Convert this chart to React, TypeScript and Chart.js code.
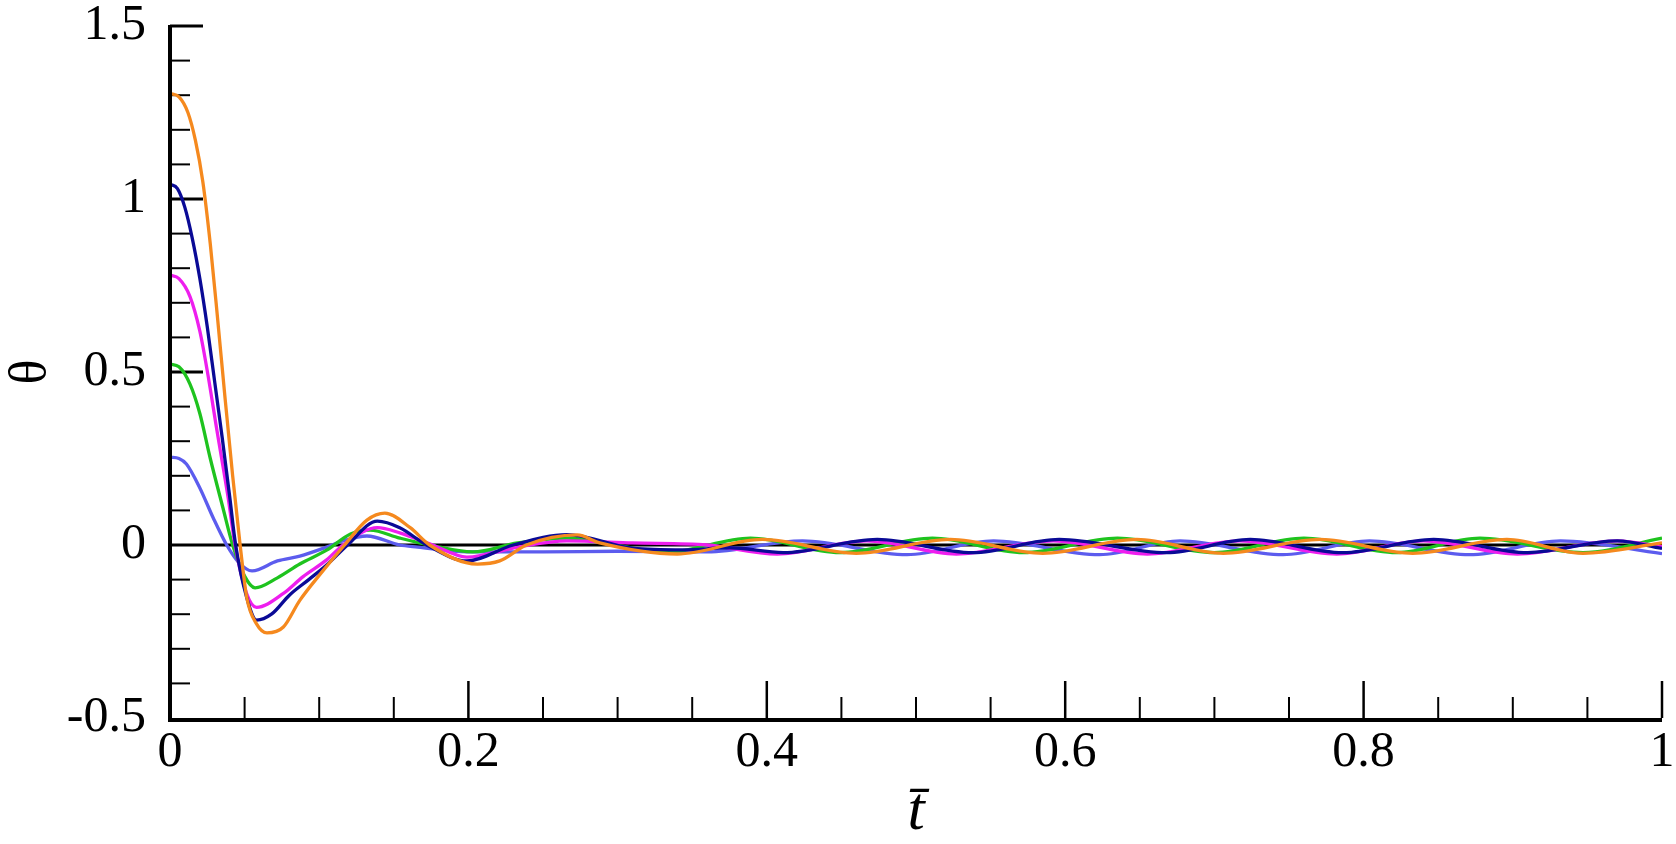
import React, { useEffect, useRef } from 'react';
import { Chart, registerables } from 'chart.js';

Chart.register(...registerables);

// ---- axis tick definitions ----
const xMajorTicks = [0, 0.2, 0.4, 0.6, 0.8, 1];
const xTickLabels = ['0', '0.2', '0.4', '0.6', '0.8', '1'];
const xMinorTicks = [0.05, 0.1, 0.15, 0.25, 0.3, 0.35, 0.45, 0.5, 0.55, 0.65, 0.7, 0.75, 0.85, 0.9, 0.95];
const yMajorTicks = [-0.5, 0, 0.5, 1, 1.5];
const yTickLabels = ['-0.5', '0', '0.5', '1', '1.5'];
const yMinorTicks = [-0.4, -0.3, -0.2, -0.1, 0.1, 0.2, 0.3, 0.4, 0.6, 0.7, 0.8, 0.9, 1.1, 1.2, 1.3, 1.4];

// ---- series ----
const orangeT = [0, 0.006, 0.012, 0.017, 0.022, 0.027, 0.032, 0.037, 0.042, 0.047, 0.0515, 0.058, 0.065, 0.076, 0.087, 0.103, 0.117, 0.132, 0.144, 0.161, 0.174, 0.206, 0.221, 0.239, 0.273, 0.288, 0.34, 0.397, 0.46, 0.523, 0.585, 0.648, 0.706, 0.771, 0.833, 0.896, 0.947, 1.0];
const orangeY = [1.305, 1.295, 1.25, 1.17, 1.05, 0.87, 0.65, 0.42, 0.2, 0, -0.153, -0.228, -0.254, -0.237, -0.16, -0.072, 0.0, 0.072, 0.092, 0.05, 0, -0.055, -0.046, 0, 0.029, 0.006, -0.026, 0.016, -0.024, 0.016, -0.024, 0.016, -0.024, 0.016, -0.024, 0.016, -0.024, 0.006];

const navyT = [0, 0.005, 0.01, 0.015, 0.02, 0.025, 0.03, 0.035, 0.04, 0.044, 0.0515, 0.058, 0.068, 0.08, 0.093, 0.105, 0.119, 0.139, 0.154, 0.172, 0.199, 0.23, 0.266, 0.31, 0.344, 0.375, 0.411, 0.474, 0.538, 0.596, 0.668, 0.724, 0.786, 0.847, 0.91, 0.97, 1.0];
const navyY = [1.043, 1.03, 0.975, 0.885, 0.77, 0.63, 0.47, 0.31, 0.14, 0, -0.153, -0.217, -0.2, -0.145, -0.1, -0.058, 0, 0.069, 0.05, 0, -0.046, 0, 0.03, -0.009, -0.014, -0.008, -0.022, 0.016, -0.022, 0.016, -0.022, 0.016, -0.022, 0.016, -0.022, 0.012, -0.01];

const magentaT = [0, 0.006, 0.0134, 0.02, 0.0255, 0.0315, 0.039, 0.0436, 0.0515, 0.058, 0.076, 0.089, 0.105, 0.116, 0.139, 0.154, 0.176, 0.199, 0.233, 0.266, 0.31, 0.36, 0.407, 0.467, 0.527, 0.592, 0.655, 0.717, 0.782, 0.84, 0.903, 0.97, 1.0];
const magentaY = [0.78, 0.77, 0.718, 0.618, 0.49, 0.33, 0.136, 0, -0.142, -0.18, -0.14, -0.092, -0.043, 0, 0.05, 0.035, 0, -0.035, -0.006, 0.012, 0.006, 0.0, -0.026, 0.012, -0.026, 0.012, -0.026, 0.012, -0.026, 0.012, -0.026, 0.012, -0.005];

const greenT = [0, 0.006, 0.0134, 0.02, 0.027, 0.0355, 0.042, 0.05, 0.057, 0.072, 0.087, 0.105, 0.121, 0.134, 0.154, 0.174, 0.203, 0.233, 0.266, 0.333, 0.389, 0.449, 0.511, 0.572, 0.635, 0.7, 0.76, 0.822, 0.878, 0.947, 1.0];
const greenY = [0.523, 0.515, 0.465, 0.38, 0.25, 0.107, 0, -0.09, -0.124, -0.095, -0.055, -0.015, 0.032, 0.043, 0.02, 0, -0.02, 0.006, 0.02, -0.02, 0.02, -0.022, 0.02, -0.022, 0.02, -0.022, 0.02, -0.022, 0.02, -0.022, 0.02];

const lightBlueT = [0, 0.006, 0.011, 0.02, 0.029, 0.038, 0.046, 0.055, 0.072, 0.087, 0.105, 0.116, 0.132, 0.154, 0.166, 0.199, 0.25, 0.3, 0.36, 0.424, 0.494, 0.552, 0.623, 0.677, 0.746, 0.804, 0.871, 0.932, 1.0];
const lightBlueY = [0.254, 0.25, 0.234, 0.165, 0.078, 0, -0.05, -0.075, -0.046, -0.032, -0.006, 0.012, 0.026, 0.0, -0.006, -0.02, -0.02, -0.018, -0.02, 0.012, -0.028, 0.012, -0.028, 0.012, -0.028, 0.012, -0.028, 0.012, -0.025];

const seriesList = [
  { t: orangeT, y: orangeY, color: '#F5891E' },
  { t: navyT, y: navyY, color: '#0A0A96' },
  { t: magentaT, y: magentaY, color: '#EE1EEE' },
  { t: greenT, y: greenY, color: '#1EC31E' },
  { t: lightBlueT, y: lightBlueY, color: '#5C5CEE' },
];

const FONT = "'Liberation Serif', 'Times New Roman', serif";

const axisPlugin = {
  id: 'axisDecor',
  beforeDatasetsDraw(chart: any) {
    const { ctx, chartArea, scales } = chart;
    const xs = scales.x;
    const ys = scales.y;
    ctx.save();
    ctx.strokeStyle = '#000';
    ctx.lineCap = 'butt';
    // zero line
    const y0 = ys.getPixelForValue(0);
    ctx.lineWidth = 3;
    ctx.beginPath();
    ctx.moveTo(chartArea.left, y0);
    ctx.lineTo(chartArea.right, y0);
    ctx.stroke();
    // y ticks
    ctx.lineWidth = 2;
    for (const v of yMinorTicks) {
      const p = ys.getPixelForValue(v);
      ctx.beginPath();
      ctx.moveTo(chartArea.left, p);
      ctx.lineTo(chartArea.left + 20, p);
      ctx.stroke();
    }
    ctx.lineWidth = 3;
    for (const v of yMajorTicks) {
      if (v <= 0) continue;
      const p = ys.getPixelForValue(v);
      ctx.beginPath();
      ctx.moveTo(chartArea.left, p);
      ctx.lineTo(chartArea.left + 33, p);
      ctx.stroke();
    }
    // x ticks
    ctx.lineWidth = 2;
    for (const v of xMinorTicks) {
      const p = xs.getPixelForValue(v);
      ctx.beginPath();
      ctx.moveTo(p, chartArea.bottom);
      ctx.lineTo(p, chartArea.bottom - 21);
      ctx.stroke();
    }
    ctx.lineWidth = 2.5;
    for (const v of xMajorTicks) {
      if (v <= 0) continue;
      const p = xs.getPixelForValue(v);
      ctx.beginPath();
      ctx.moveTo(p, chartArea.bottom);
      ctx.lineTo(p, chartArea.bottom - 37);
      ctx.stroke();
    }
    ctx.restore();
  },
  afterDatasetsDraw(chart: any) {
    const { ctx, chartArea } = chart;
    ctx.save();
    ctx.strokeStyle = '#000';
    ctx.lineWidth = 4;
    ctx.beginPath();
    ctx.moveTo(chartArea.left, chartArea.top - 1);
    ctx.lineTo(chartArea.left, chartArea.bottom + 2);
    ctx.lineTo(chartArea.right, chartArea.bottom + 2);
    ctx.stroke();
    ctx.restore();
  },
};

export default function App() {
  const canvasRef = useRef<HTMLCanvasElement | null>(null);

  useEffect(() => {
    if (!canvasRef.current) return;
    const chart = new Chart(canvasRef.current, {
      type: 'line',
      data: {
        datasets: seriesList.map((s) => ({
          data: s.t.map((t, i) => ({ x: t, y: s.y[i] })),
          borderColor: s.color,
          borderWidth: 3.3,
          pointRadius: 0,
          fill: false,
          cubicInterpolationMode: 'monotone' as const,
        })),
      },
      options: {
        animation: false,
        responsive: true,
        maintainAspectRatio: false,
        layout: { padding: { top: 26, right: 14, bottom: 0, left: 0 } },
        plugins: { legend: { display: false }, tooltip: { enabled: false } },
        scales: {
          x: {
            type: 'linear',
            min: 0,
            max: 1,
            afterBuildTicks: (scale: any) => {
              scale.ticks = xMajorTicks.map((v) => ({ value: v }));
            },
            afterFit: (scale: any) => {
              scale.height = 126;
              scale.paddingLeft = 0;
              scale.paddingRight = 0;
            },
            grid: { display: false, drawTicks: false },
            border: { display: false },
            ticks: {
              padding: 10,
              color: '#000',
              maxRotation: 0,
              autoSkip: false,
              font: { family: FONT, size: 50, lineHeight: 1 },
              callback: (value: any) => {
                const i = xMajorTicks.findIndex((v) => Math.abs(v - value) < 1e-9);
                return i >= 0 ? xTickLabels[i] : '';
              },
            },
            title: {
              display: true,
              text: 't\u0304',
              color: '#000',
              font: { family: FONT, size: 62, style: 'italic', lineHeight: 1.0 },
              padding: { top: 0, bottom: 0 },
            },
          },
          y: {
            type: 'linear',
            min: -0.5,
            max: 1.5,
            afterBuildTicks: (scale: any) => {
              scale.ticks = yMajorTicks.map((v) => ({ value: v }));
            },
            afterFit: (scale: any) => {
              scale.width = 170;
              scale.paddingTop = 0;
              scale.paddingBottom = 0;
            },
            grid: { display: false, drawTicks: false },
            border: { display: false },
            ticks: {
              padding: 24,
              color: '#000',
              autoSkip: false,
              font: { family: FONT, size: 50, lineHeight: 1 },
              callback: (value: any) => {
                const i = yMajorTicks.findIndex((v) => Math.abs(v - value) < 1e-9);
                return i >= 0 ? yTickLabels[i] : '';
              },
            },
            title: {
              display: true,
              text: '\u03B8',
              color: '#000',
              font: { family: FONT, size: 52, lineHeight: 1.2 },
              padding: { top: 0, bottom: 0 },
            },
          },
        },
      },
      plugins: [axisPlugin],
    });
    return () => chart.destroy();
  }, []);

  return (
    <div style={{ position: 'absolute', left: 0, top: 0, width: 1676, height: 844, background: '#fff' }}>
      <canvas ref={canvasRef} />
    </div>
  );
}
